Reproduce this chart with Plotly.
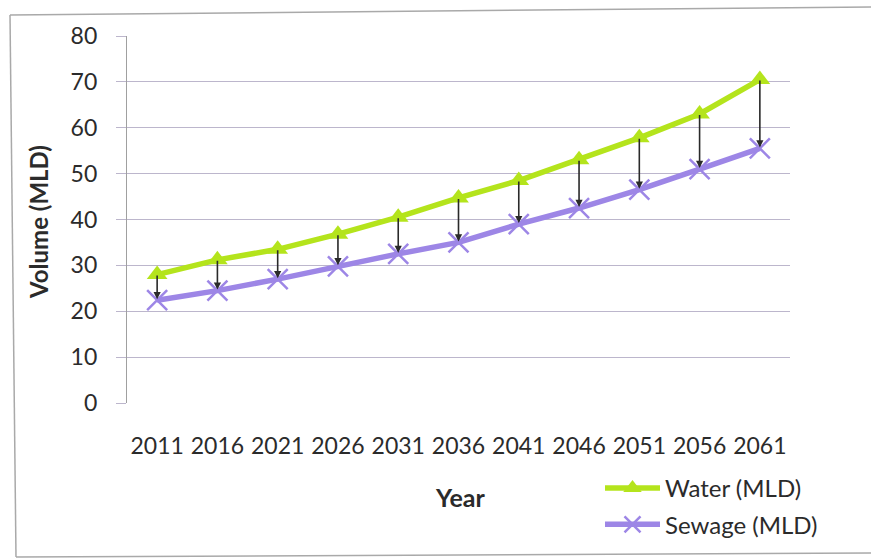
import plotly.graph_objects as go

# Projected demand by census year (million litres per day)
years = ["2011", "2016", "2021", "2026", "2031", "2036", "2041", "2046", "2051", "2056", "2061"]
water_mld = [28, 31.2, 33.5, 36.8, 40.5, 44.7, 48.5, 53, 57.8, 63, 70.5]
sewage_mld = [22.4, 24.5, 27, 29.8, 32.5, 35, 39, 42.5, 46.5, 51, 55.5]
y_ticks = [0, 10, 20, 30, 40, 50, 60, 70, 80]

WATER = "#b4e41c"
SEWAGE = "#9d86e6"
GRID = "#bcb6cc"
TEXT = "#2b2b2b"
FONT = "Lato"

W, H = 871, 560
L, R, T, B = 127, 81, 36, 157
PW, PH = W - L - R, H - T - B


def px(x):
    return (x - L) / PW


def py(y):
    return (H - B - y) / PH


fig = go.Figure()

fig.add_trace(go.Scatter(
    x=years, y=water_mld, name="Water (MLD)", mode="lines+markers",
    line=dict(color=WATER, width=5.5),
    marker=dict(symbol="triangle-up", size=18, color=WATER),
    legendgroup="w",
))
fig.add_trace(go.Scatter(
    x=years, y=sewage_mld, name="Sewage (MLD)", mode="lines+markers",
    line=dict(color=SEWAGE, width=5.5),
    marker=dict(symbol="x-thin", size=20, color=SEWAGE,
                line=dict(color=SEWAGE, width=2.5)),
    legendgroup="s",
))

# Downward arrows from water supply to sewage generated
for i, (w, s) in enumerate(zip(water_mld, sewage_mld)):
    fig.add_annotation(
        x=i, y=s, ax=i, ay=w, xref="x", yref="y", axref="x", ayref="y",
        text=" ", font=dict(size=1), borderpad=0,
        showarrow=True, arrowhead=2, arrowsize=0.9,
        arrowwidth=1.6, arrowcolor="#2a2a2a", standoff=1, startstandoff=0,
    )

# Axis titles
fig.add_annotation(
    x=px(39), y=py(222), xref="paper", yref="paper", text="<b>Volume (MLD)</b>",
    textangle=-90, showarrow=False, xanchor="center", yanchor="middle",
    font=dict(family=FONT, size=24, color=TEXT),
)
fig.add_annotation(
    x=px(460), y=py(497), xref="paper", yref="paper", text="<b>Year</b>",
    showarrow=False, xanchor="center", yanchor="middle",
    font=dict(family=FONT, size=25, color=TEXT),
)

# Chart-area frame
frame = dict(type="line", xref="paper", yref="paper",
             line=dict(color="#a9a9a9", width=1.5), layer="below")
fig.add_shape(**frame, x0=px(10), y0=py(15), x1=px(871), y1=py(7))
fig.add_shape(**frame, x0=px(10), y0=py(15), x1=px(16), y1=py(557))
fig.add_shape(**frame, x0=px(16), y0=py(557), x1=px(871), y1=py(553))

fig.update_layout(
    width=W, height=H,
    margin=dict(l=L, r=R, t=T, b=B),
    paper_bgcolor="white", plot_bgcolor="white",
    font=dict(family=FONT, size=23, color=TEXT),
    showlegend=True,
    legend=dict(
        x=px(600), y=py(466), xanchor="left", yanchor="top",
        font=dict(family=FONT, size=24, color=TEXT),
        itemwidth=55, tracegroupgap=2, bgcolor="rgba(0,0,0,0)",
    ),
    xaxis=dict(
        type="category", range=[-0.5, len(years) - 0.5],
        showgrid=False, zeroline=False, showline=False,
        ticks="", ticklabelstandoff=27,
        tickfont=dict(family=FONT, size=23, color=TEXT),
    ),
    yaxis=dict(
        range=[0, 80], tickvals=y_ticks,
        showgrid=True, gridcolor=GRID, gridwidth=1.3,
        zeroline=False, showline=True, linecolor="#a0a0a0", linewidth=1.2,
        ticks="outside", ticklen=10, tickcolor=GRID, tickwidth=1.3,
        ticklabelstandoff=14,
        tickfont=dict(family=FONT, size=23, color=TEXT),
    ),
)

fig.write_html("out.html")
